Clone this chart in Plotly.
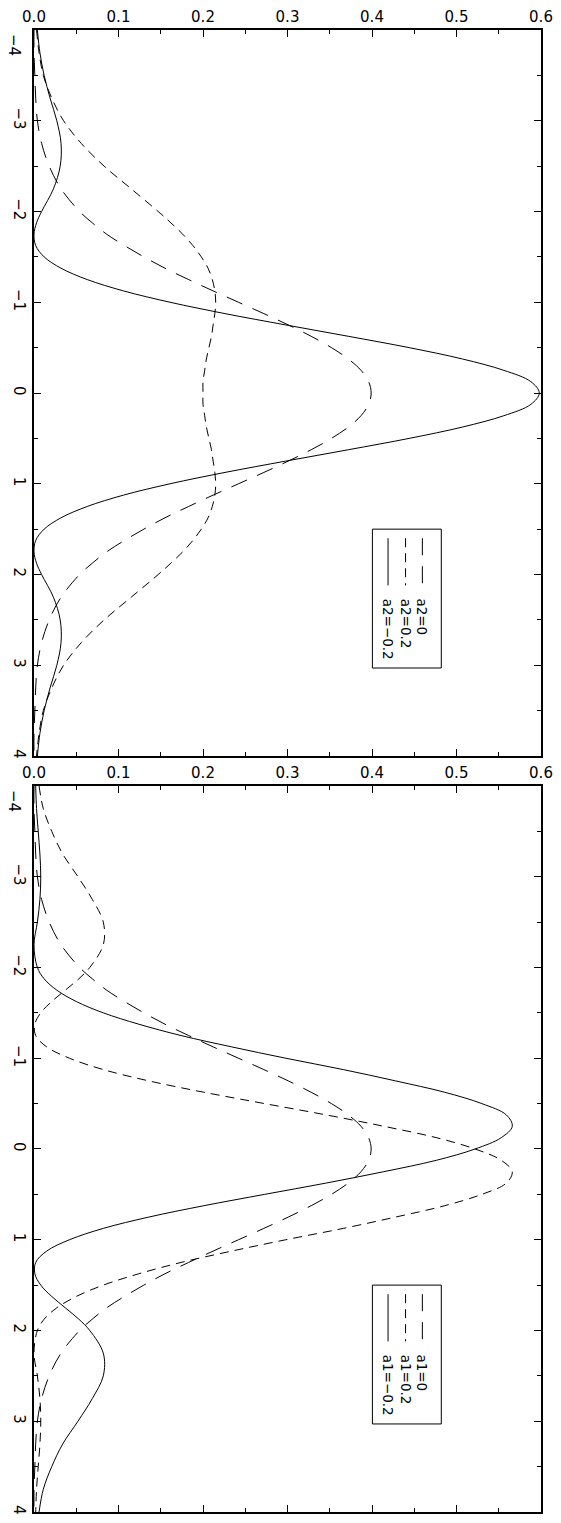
import plotly.graph_objects as go

# abscissa of the distributions (drawn top -> bottom in the rotated plot)
x_grid = [-4.0, -3.75, -3.5, -3.25, -3.0, -2.75, -2.5, -2.25,
          -2.0, -1.875, -1.75, -1.625, -1.5, -1.375, -1.25, -1.125, -1.0, -0.875,
          -0.75, -0.625, -0.5, -0.375, -0.25, -0.125,
          0.0, 0.125, 0.25, 0.375, 0.5, 0.625, 0.75, 0.875, 1.0, 1.125, 1.25,
          1.375, 1.5, 1.625, 1.75, 1.875, 2.0,
          2.25, 2.5, 2.75, 3.0, 3.25, 3.5, 3.75, 4.0]

# upper panel: a2 series
a2_zero = [0.000, 0.000, 0.001, 0.002, 0.004, 0.009, 0.018, 0.032,
           0.054, 0.069, 0.086, 0.107, 0.130, 0.155, 0.183, 0.212, 0.242, 0.272,
           0.301, 0.328, 0.352, 0.372, 0.387, 0.396,
           0.399, 0.396, 0.387, 0.372, 0.352, 0.328, 0.301, 0.272, 0.242, 0.212, 0.183,
           0.155, 0.130, 0.107, 0.086, 0.069, 0.054,
           0.032, 0.018, 0.009, 0.004, 0.002, 0.001, 0.000, 0.000]
a2_plus = [0.003, 0.006, 0.011, 0.021, 0.035, 0.056, 0.083, 0.115,
           0.147, 0.162, 0.176, 0.188, 0.198, 0.206, 0.211, 0.214, 0.215, 0.214,
           0.212, 0.210, 0.207, 0.204, 0.202, 0.200,
           0.200, 0.200, 0.202, 0.204, 0.207, 0.210, 0.212, 0.214, 0.215, 0.214, 0.211,
           0.206, 0.198, 0.188, 0.176, 0.162, 0.147,
           0.115, 0.083, 0.056, 0.035, 0.021, 0.011, 0.006, 0.003]
a2_minus = [0.004, 0.007, 0.012, 0.019, 0.027, 0.032, 0.031, 0.023,
            0.009, 0.003, 0.000, 0.002, 0.012, 0.032, 0.063, 0.106, 0.161, 0.226,
            0.298, 0.372, 0.444, 0.507, 0.556, 0.588,
            0.598, 0.588, 0.556, 0.507, 0.444, 0.372, 0.298, 0.226, 0.161, 0.106, 0.063,
            0.032, 0.012, 0.002, 0.000, 0.003, 0.009,
            0.023, 0.031, 0.032, 0.027, 0.019, 0.012, 0.007, 0.004]

# lower panel: a1 series
a1_zero = list(a2_zero)
a1_plus = [0.006, 0.011, 0.021, 0.034, 0.052, 0.069, 0.082, 0.082,
           0.066, 0.053, 0.037, 0.021, 0.008, 0.001, 0.002, 0.015, 0.042, 0.082,
           0.136, 0.201, 0.273, 0.346, 0.414, 0.476,
           0.522, 0.553, 0.566, 0.559, 0.530, 0.486, 0.428, 0.366, 0.298, 0.234, 0.174,
           0.124, 0.082, 0.050, 0.027, 0.012, 0.004,
           0.000, 0.004, 0.007, 0.008, 0.007, 0.005, 0.003, 0.002]
a1_minus = [0.002, 0.003, 0.005, 0.007, 0.008, 0.007, 0.004, 0.000,
            0.004, 0.012, 0.027, 0.050, 0.082, 0.124, 0.174, 0.234, 0.298, 0.366,
            0.428, 0.486, 0.530, 0.559, 0.566, 0.553,
            0.522, 0.476, 0.414, 0.346, 0.273, 0.201, 0.136, 0.082, 0.042, 0.015, 0.002,
            0.001, 0.008, 0.021, 0.037, 0.053, 0.066,
            0.082, 0.082, 0.069, 0.052, 0.034, 0.021, 0.011, 0.006]

top_labels = ["a2=0", "a2=0.2", "a2=\u22120.2"]
bottom_labels = ["a1=0", "a1=0.2", "a1=\u22120.2"]

LONG = "17px,11px"
SHORT = "9px,6px"
FONT = "DejaVu Sans"

fig = go.Figure()

panels = [
    ("x", "y", [a2_zero, a2_plus, a2_minus], top_labels),
    ("x2", "y2", [a1_zero, a1_plus, a1_minus], bottom_labels),
]
dashes = [LONG, SHORT, "solid"]
leg_x = [0.4596, 0.4397, 0.4190]

for xa, ya, series, labels in panels:
    for vals, dash in zip(series, dashes):
        fig.add_trace(go.Scatter(
            x=vals, y=x_grid, mode="lines", xaxis=xa, yaxis=ya,
            line=dict(color="black", width=1, dash=dash, shape="spline"),
            showlegend=False, hoverinfo="skip"))
    # legend box drawn inside the panel
    fig.add_shape(type="rect", xref=xa, yref=ya, x0=0.4005, x1=0.482, y0=1.5, y1=3.03,
                  line=dict(color="black", width=1))
    for lx, dash, lab in zip(leg_x, dashes, labels):
        fig.add_trace(go.Scatter(
            x=[lx, lx], y=[1.6, 2.12], mode="lines", xaxis=xa, yaxis=ya,
            line=dict(color="black", width=1, dash=dash),
            showlegend=False, hoverinfo="skip"))
        fig.add_annotation(x=lx, y=2.24, xref=xa, yref=ya, text=lab, textangle=90,
                           showarrow=False, xanchor="center", yanchor="top",
                           font=dict(family=FONT, size=13.5, color="black"))
    # the end label at -4 sits just inside the frame
    fig.add_annotation(x=0, y=-4, xref="paper", yref=ya, text="\u22124", textangle=90,
                       showarrow=False, xanchor="right", yanchor="top", xshift=-9, yshift=-2,
                       font=dict(family=FONT, size=15, color="black"))

xaxis_style = dict(
    range=[0, 0.6], side="top", tickmode="linear", tick0=0, dtick=0.1, tickformat=".1f",
    ticks="inside", ticklen=7, tickwidth=1, tickcolor="black",
    minor=dict(tickmode="linear", tick0=0, dtick=0.05, ticks="inside", ticklen=4,
               tickcolor="black", showgrid=False),
    showline=True, linewidth=2, linecolor="black", mirror="ticks",
    showgrid=False, zeroline=False,
    tickfont=dict(family=FONT, size=15, color="black"))

yticks = [-4, -3, -2, -1, 0, 1, 2, 3, 4]
ytext = ["" if v == -4 else str(v).replace("-", "\u2212") for v in yticks]
yaxis_style = dict(
    range=[4, -4], tickmode="array", tickvals=yticks, ticktext=ytext, tickangle=90,
    ticks="inside", ticklen=7, tickwidth=1, tickcolor="black",
    minor=dict(tickmode="linear", tick0=0, dtick=0.5, ticks="inside", ticklen=4,
               tickcolor="black", showgrid=False),
    showline=True, linewidth=2, linecolor="black", mirror="ticks",
    showgrid=False, zeroline=False,
    tickfont=dict(family=FONT, size=15, color="black"))

fig.update_layout(
    width=561, height=1523,
    margin=dict(l=34, r=15, t=29, b=8),
    paper_bgcolor="white", plot_bgcolor="white",
    showlegend=False,
    xaxis=dict(xaxis_style, anchor="y"),
    yaxis=dict(yaxis_style, anchor="x", domain=[0.5101, 1.0]),
    xaxis2=dict(xaxis_style, anchor="y2"),
    yaxis2=dict(yaxis_style, anchor="x2", domain=[0.0, 0.4899]),
)

# drop the default page margin so the figure sits at the window origin
fig.write_html("out.html", config={"displayModeBar": False},
               post_script="document.body.style.margin='0';document.body.style.overflow='hidden';")
